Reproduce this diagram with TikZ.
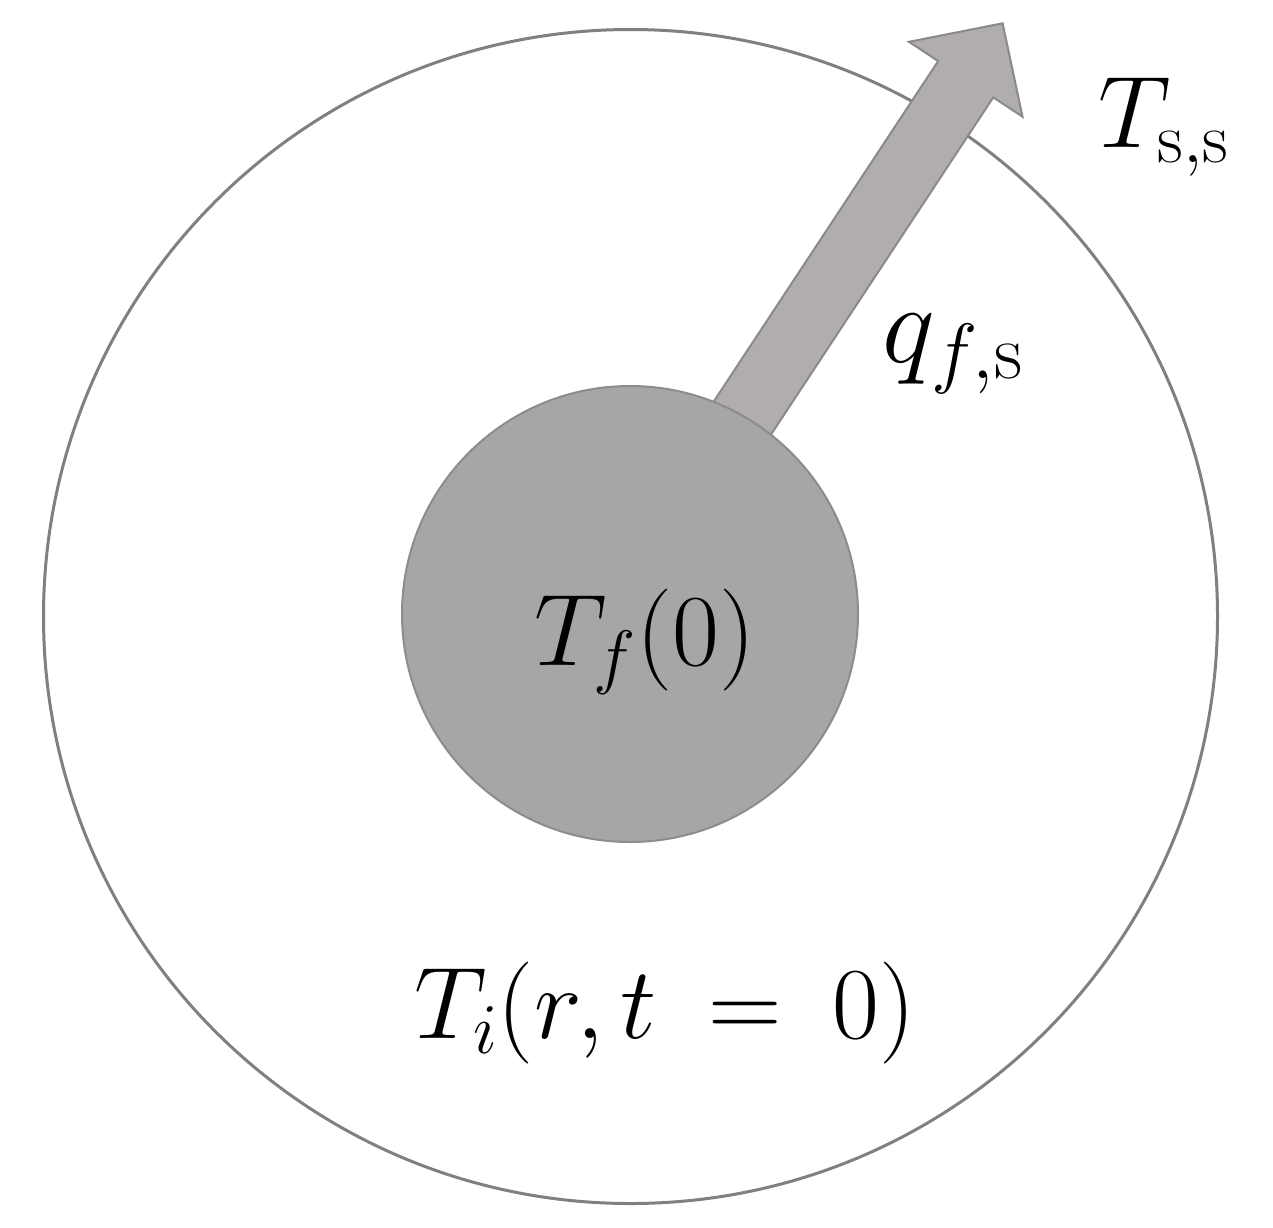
\documentclass[tikz,border=0pt]{standalone}
\usepackage{fix-cm}
\usetikzlibrary{positioning}
\definecolor{ringgray}{HTML}{808080}
\definecolor{fuelgray}{HTML}{A6A6A6}
\definecolor{fueledge}{HTML}{8C8C8C}
\definecolor{fluxgray}{HTML}{B1ADAC}
\definecolor{fluxedge}{HTML}{8A8A8A}
\begin{document}
\begin{tikzpicture}[x=0.5pt,y=-0.5pt,
  lbl/.style={inner sep=0pt, anchor=base, font=\fontsize{51}{60}\selectfont},
  flux/.style={draw=fluxedge, fill=fluxgray, line width=1pt, line join=miter}]
\useasboundingbox (0,0) rectangle (1273,1227);
\node (cell) [circle, draw=ringgray, line width=1.5pt, minimum size=587pt, inner sep=0pt] at (630.5,616.5) {};
% heat flux arrow
\begin{scope}[shift={(745,414)}, rotate=56.6]
\draw [flux] (-12,-33) -- (401,-33) -- (401,-68) -- (468,0) -- (401,68) -- (401,33) -- (-12,33) -- cycle;
\end{scope}
\node (fuel) [circle, draw=fueledge, fill=fuelgray, line width=1pt, minimum size=228pt, inner sep=0pt] at (630,614) {};
\node (tf) [lbl] at (645,665) {$T_f(0)$};
\node (ti) [lbl] at (665,1038) {$T_i(r,t\:=\:0)$};
\node (q) [lbl, font=\fontsize{56}{64}\selectfont] at (953,362) {$q_{f,\mathrm{s}}$};
\node (ts) [lbl] at (1164,147) {$T_{\mathrm{s,s}}$};
\end{tikzpicture}
\end{document}
